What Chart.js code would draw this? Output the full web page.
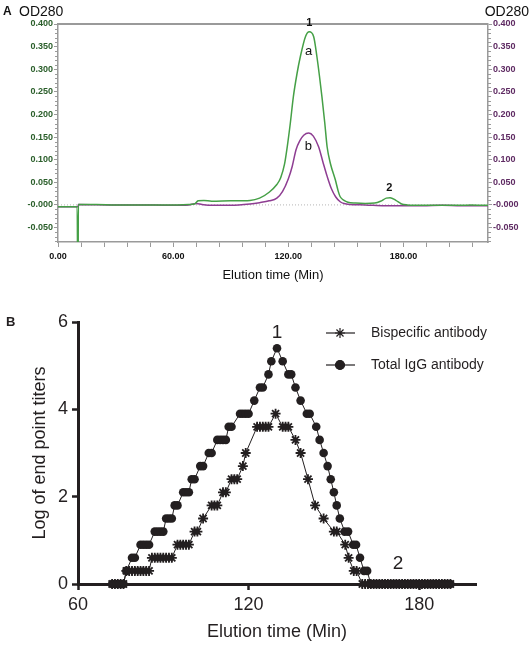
<!DOCTYPE html>
<html>
<head>
<meta charset="utf-8">
<script src="https://cdn.jsdelivr.net/npm/chart.js@4.4.1/dist/chart.umd.min.js"></script>
<style>
  html, body { margin: 0; padding: 0; background: #fff; }
  #wrapA { position: absolute; left: 0; top: 0; width: 531px; height: 290px; }
  #wrapB { position: absolute; left: 0; top: 290px; width: 531px; height: 355px; }
</style>
</head>
<body>
<div id="wrapA"><canvas id="chartA" width="531" height="290"></canvas></div>
<div id="wrapB"><canvas id="chartB" width="531" height="355"></canvas></div>
<script>
// ---- Panel A: chromatogram, OD280 vs elution time ----
const greenTime = [0, 10, 10.4, 10.6, 20, 30, 40, 50, 60, 68, 71, 73, 76, 80, 90, 100, 105, 110, 114, 116, 118, 119.4, 121, 122.6, 124.5, 126.2, 128.9, 130.9, 133.2, 134.9, 136.2, 137.5, 139, 140.2, 142, 144.5, 146, 147, 149, 151, 155, 160, 165, 168, 171, 173, 176, 179, 182, 190, 200, 210, 215, 224];
const greenOD   = [-0.004, -0.004, -0.3, 0.001, 0.001, 0, 0, 0, 0, 0.001, 0.002, 0.009, 0.010, 0.008, 0.009, 0.010, 0.015, 0.028, 0.045, 0.06, 0.09, 0.128, 0.18, 0.239, 0.29, 0.327, 0.372, 0.383, 0.372, 0.327, 0.285, 0.239, 0.18, 0.128, 0.09, 0.055, 0.03, 0.018, 0.01, 0.006, 0.004, 0.003, 0.004, 0.008, 0.015, 0.016, 0.01, 0.002, 0, -0.001, -0.001, -0.001, 0, -0.001];

const purpleTime = [0, 10.5, 10.6, 30, 50, 60, 68, 72, 75, 80, 90, 100, 105, 110, 114, 117, 120, 122, 124, 126, 128, 130.6, 133, 135.8, 138, 140.3, 142.5, 144.6, 147, 149, 152, 160, 170, 180, 190, 200, 210, 224];
const purpleOD   = [-0.004, -0.004, 0.001, 0, 0, -0.001, 0, 0.003, 0.001, -0.001, -0.001, 0.002, 0.005, 0.009, 0.015, 0.03, 0.058, 0.085, 0.122, 0.142, 0.154, 0.159, 0.152, 0.128, 0.095, 0.062, 0.035, 0.018, 0.007, 0.003, 0.001, 0, -0.002, -0.002, -0.002, -0.001, -0.002, -0.002];

const odTicks  = [-0.05, 0, 0.05, 0.1, 0.15, 0.2, 0.25, 0.3, 0.35, 0.4];
const odLabels = ['-0.050', '-0.000', '0.050', '0.100', '0.150', '0.200', '0.250', '0.300', '0.350', '0.400'];
const timeTicksA = [0, 12, 24, 36, 48, 60, 72, 84, 96, 108, 120, 132, 144, 156, 168, 180, 192, 204, 216];

// ---- Panel B: log of end point titers ----
const bsTime  = [72, 73, 74, 75, 76, 77, 78, 79, 80, 81, 82, 83, 84, 85, 86, 87, 88, 89, 90, 91, 92, 93, 95, 96, 97, 98, 99, 101, 102, 104, 107, 108, 109, 111, 112, 114, 115, 116, 118, 119, 123, 124, 125, 126, 127, 129.5, 132, 133, 134, 136.5, 138.3, 140.9, 143.4, 146.4, 150, 151, 154, 155.2, 157, 158, 160, 161, 162, 163, 164, 165, 166, 167, 168, 169, 170, 171, 172, 173, 174, 175, 176, 177, 178, 179, 180, 181, 182, 183, 184, 185, 186, 187, 188, 189, 190, 191];
const bsTiter = [0, 0, 0, 0, 0, 0.3, 0.3, 0.3, 0.3, 0.3, 0.3, 0.3, 0.3, 0.3, 0.6, 0.6, 0.6, 0.6, 0.6, 0.6, 0.6, 0.6, 0.9, 0.9, 0.9, 0.9, 0.9, 1.2, 1.2, 1.5, 1.8, 1.8, 1.8, 2.1, 2.1, 2.4, 2.4, 2.4, 2.7, 3.0, 3.6, 3.6, 3.6, 3.6, 3.6, 3.9, 3.6, 3.6, 3.6, 3.3, 3.0, 2.4, 1.8, 1.5, 1.2, 1.2, 0.9, 0.6, 0.3, 0.3, 0, 0, 0, 0, 0, 0, 0, 0, 0, 0, 0, 0, 0, 0, 0, 0, 0, 0, 0, 0, 0, 0, 0, 0, 0, 0, 0, 0, 0, 0, 0, 0];

const igTime  = [72, 73, 74, 75, 76, 77, 79, 80, 82, 83, 84, 85, 87, 88, 89, 90, 91, 92, 93, 94, 95, 97, 98, 99, 100, 101, 103, 104, 106, 107, 109, 110, 111, 112, 113, 114, 117, 118, 119, 120, 122, 124, 125, 127, 128, 130, 132, 134, 135, 136.5, 138.3, 140.5, 141.5, 143.8, 145, 146.4, 147.8, 148.9, 150, 151, 152.1, 153.8, 155, 156.8, 157.8, 159.2, 160.6, 161.7, 163, 164, 165, 166, 167, 168, 169, 170, 171, 172, 173, 174, 175, 176, 177, 178, 179, 180, 181, 182, 183, 184, 185, 186, 187, 188, 189, 190, 191];
const igTiter = [0, 0, 0, 0, 0, 0.3, 0.6, 0.6, 0.9, 0.9, 0.9, 0.9, 1.2, 1.2, 1.2, 1.2, 1.5, 1.5, 1.5, 1.8, 1.8, 2.1, 2.1, 2.1, 2.4, 2.4, 2.7, 2.7, 3.0, 3.0, 3.3, 3.3, 3.3, 3.3, 3.6, 3.6, 3.9, 3.9, 3.9, 3.9, 4.2, 4.5, 4.5, 4.8, 5.1, 5.4, 5.1, 4.8, 4.8, 4.5, 4.2, 3.9, 3.9, 3.6, 3.3, 3.0, 2.7, 2.4, 2.1, 1.8, 1.5, 1.2, 1.2, 0.9, 0.9, 0.6, 0.3, 0.3, 0, 0, 0, 0, 0, 0, 0, 0, 0, 0, 0, 0, 0, 0, 0, 0, 0, 0, 0, 0, 0, 0, 0, 0, 0, 0, 0, 0, 0];

const titerTicks = [0, 2, 4, 6];
const timeTicksB = [60, 120, 180];

const tickFontA = { family: '"Liberation Sans", Arial, sans-serif', size: 9, weight: 'bold' };
const gray = '#9a9a9a';
const ink = '#231f20';

function toPoints(xs, ys) {
  return xs.map((x, i) => ({ x: x, y: ys[i] }));
}

// extras for panel A: dotted zero line, top frame, minor ticks, labels
const panelAExtras = {
  id: 'panelAExtras',
  beforeDatasetsDraw(chart) {
    const { ctx, chartArea: a, scales } = chart;
    const y0 = scales.yL.getPixelForValue(0);
    ctx.save();
    ctx.strokeStyle = '#b5b5b5';
    ctx.lineWidth = 1;
    ctx.setLineDash([1, 2]);
    ctx.beginPath();
    ctx.moveTo(a.left, y0);
    ctx.lineTo(a.right, y0);
    ctx.stroke();
    ctx.restore();
  },
  afterDraw(chart) {
    const { ctx, chartArea: a, scales } = chart;
    ctx.save();
    // top frame line
    ctx.strokeStyle = gray;
    ctx.lineWidth = 2;
    ctx.beginPath();
    ctx.moveTo(a.left, a.top);
    ctx.lineTo(a.right, a.top);
    ctx.stroke();
    // minor ticks every 0.01
    ctx.lineWidth = 1;
    for (let k = -8; k <= 40; k++) {
      if (k % 5 === 0) continue;
      const y = Math.round(scales.yL.getPixelForValue(k / 100)) + 0.5;
      ctx.beginPath();
      ctx.moveTo(a.left - 3, y);
      ctx.lineTo(a.left, y);
      ctx.moveTo(a.right, y);
      ctx.lineTo(a.right + 3, y);
      ctx.stroke();
    }
    // texts
    ctx.fillStyle = '#111';
    ctx.textBaseline = 'middle';
    ctx.textAlign = 'left';
    ctx.font = 'bold 12px Arial';
    ctx.fillText('A', 3, 12);
    ctx.font = '14px Arial';
    ctx.fillText('OD280', 19, 12);
    ctx.textAlign = 'right';
    ctx.fillText('OD280', 529, 12);
    ctx.textAlign = 'center';
    const xs = scales.x, ys = scales.yL;
    ctx.font = 'bold 11px Arial';
    ctx.fillText('1', xs.getPixelForValue(130.9), ys.getPixelForValue(0.4) - 1);
    ctx.fillText('2', xs.getPixelForValue(172.6), ys.getPixelForValue(0.038));
    ctx.font = '13px Arial';
    ctx.fillText('a', xs.getPixelForValue(130.6), ys.getPixelForValue(0.34));
    ctx.fillText('b', xs.getPixelForValue(130.4), ys.getPixelForValue(0.13));
    ctx.restore();
  }
};

const chartA = new Chart(document.getElementById('chartA').getContext('2d'), {
  type: 'line',
  data: {
    datasets: [
      { label: 'a', data: toPoints(greenTime, greenOD), yAxisID: 'yL', borderColor: '#45a046', borderWidth: 1.5, pointRadius: 0, fill: false, cubicInterpolationMode: 'monotone' },
      { label: 'b', data: toPoints(purpleTime, purpleOD), yAxisID: 'yR', borderColor: '#8e3d92', borderWidth: 1.5, pointRadius: 0, fill: false, cubicInterpolationMode: 'monotone' }
    ]
  },
  options: {
    responsive: false,
    animation: false,
    layout: { padding: { top: 24, left: 0, right: 0, bottom: 0 } },
    plugins: { legend: { display: false }, tooltip: { enabled: false } },
    scales: {
      x: {
        type: 'linear',
        min: 0,
        max: 224,
        afterBuildTicks: scale => { scale.ticks = timeTicksA.map(v => ({ value: v })); },
        afterFit: scale => { scale.height = 48; },
        ticks: {
          autoSkip: false,
          maxRotation: 0,
          padding: 4,
          color: '#111',
          font: tickFontA,
          callback: v => (v % 60 === 0 ? v.toFixed(2) : '')
        },
        grid: { drawOnChartArea: false, tickLength: 5, color: gray },
        border: { color: gray, width: 1.5 },
        title: { display: true, text: 'Elution time (Min)', color: '#111', font: { family: 'Arial', size: 13 }, padding: { top: 0, bottom: 7 } }
      },
      yL: {
        position: 'left',
        min: -0.082,
        max: 0.4,
        afterBuildTicks: scale => { scale.ticks = odTicks.map(v => ({ value: v })); },
        afterFit: scale => { scale.width = 58; },
        ticks: {
          padding: 1,
          color: '#2a5e2a',
          font: tickFontA,
          callback: (v, i) => odLabels[i]
        },
        grid: { drawOnChartArea: false, tickLength: 4, color: gray },
        border: { color: gray, width: 1.5 }
      },
      yR: {
        position: 'right',
        min: -0.082,
        max: 0.4,
        afterBuildTicks: scale => { scale.ticks = odTicks.map(v => ({ value: v })); },
        afterFit: scale => { scale.width = 43; },
        ticks: {
          padding: 1,
          color: '#5e2a62',
          font: tickFontA,
          callback: (v, i) => odLabels[i]
        },
        grid: { drawOnChartArea: false, tickLength: 4, color: gray },
        border: { color: gray, width: 1.5 }
      }
    }
  },
  plugins: [panelAExtras]
});

// extras for panel B: legend and peak labels
const panelBExtras = {
  id: 'panelBExtras',
  afterDraw(chart) {
    const { ctx, chartArea: a, scales } = chart;
    ctx.save();
    ctx.fillStyle = ink;
    ctx.textBaseline = 'middle';
    ctx.textAlign = 'left';
    ctx.font = 'bold 13px Arial';
    ctx.fillText('B', 6, 32);
    ctx.textAlign = 'center';
    ctx.font = '19px Arial';
    ctx.fillText('1', scales.x.getPixelForValue(130), scales.y.getPixelForValue(5.75));
    ctx.fillText('2', scales.x.getPixelForValue(172.6), scales.y.getPixelForValue(0.47));

    // legend
    const rows = [
      { text: 'Bispecific antibody', style: 'star', radius: 5, y: 43 },
      { text: 'Total IgG antibody', style: 'circle', radius: 4.5, y: 75 }
    ];
    rows.forEach(r => {
      ctx.strokeStyle = ink;
      ctx.lineWidth = 1.2;
      ctx.beginPath();
      ctx.moveTo(326, r.y);
      ctx.lineTo(355, r.y);
      ctx.stroke();
      ctx.fillStyle = ink;
      Chart.helpers.drawPoint(ctx, { pointStyle: r.style, radius: r.radius, borderWidth: 1.5, rotation: 0 }, 340, r.y);
      if (r.style === 'circle') ctx.fill();
      ctx.fillStyle = ink;
      ctx.textAlign = 'left';
      ctx.font = '14px Arial';
      ctx.fillText(r.text, 371, r.y);
    });
    ctx.restore();
  }
};

const chartB = new Chart(document.getElementById('chartB').getContext('2d'), {
  type: 'line',
  data: {
    datasets: [
      { label: 'Bispecific antibody', data: toPoints(bsTime, bsTiter), borderColor: ink, borderWidth: 1, pointStyle: 'star', pointRadius: 5, pointBorderWidth: 1.8, pointBorderColor: ink, pointBackgroundColor: ink, tension: 0, clip: false },
      { label: 'Total IgG antibody', data: toPoints(igTime, igTiter), borderColor: ink, borderWidth: 1, pointStyle: 'circle', pointRadius: 4.3, pointBorderWidth: 0, pointBackgroundColor: ink, tension: 0, clip: false }
    ]
  },
  options: {
    responsive: false,
    animation: false,
    layout: { padding: { top: 32, left: 0, right: 55, bottom: 0 } },
    plugins: { legend: { display: false }, tooltip: { enabled: false } },
    scales: {
      x: {
        type: 'linear',
        min: 60,
        max: 200,
        afterBuildTicks: scale => { scale.ticks = timeTicksB.map(v => ({ value: v })); },
        afterFit: scale => { scale.height = 61; },
        ticks: { autoSkip: false, maxRotation: 0, padding: 4, color: ink, font: { family: 'Arial', size: 18 } },
        grid: { drawOnChartArea: false, tickLength: 6, tickWidth: 2.5, tickColor: ink },
        border: { color: ink, width: 3 },
        title: { display: true, text: 'Elution time (Min)', color: ink, font: { family: 'Arial', size: 18 }, padding: { top: 0, bottom: 2 } }
      },
      y: {
        min: 0,
        max: 6,
        afterBuildTicks: scale => { scale.ticks = titerTicks.map(v => ({ value: v })); },
        afterFit: scale => { scale.width = 78; },
        ticks: { padding: 4, color: ink, font: { family: 'Arial', size: 18 } },
        grid: { drawOnChartArea: false, tickLength: 6, tickWidth: 2.5, tickColor: ink },
        border: { color: ink, width: 3 },
        title: { display: true, text: 'Log of end point titers', color: ink, font: { family: 'Arial', size: 18 }, padding: { top: 29, bottom: 0 } }
      }
    }
  },
  plugins: [panelBExtras]
});
</script>
</body>
</html>
